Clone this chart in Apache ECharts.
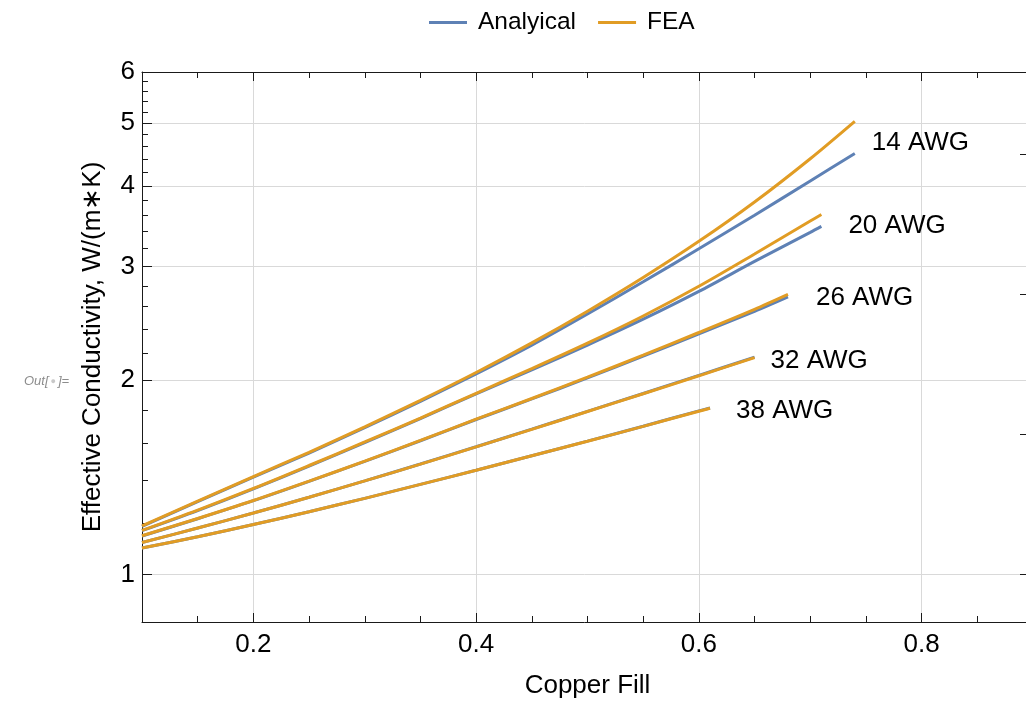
<!DOCTYPE html>
<html><head><meta charset="utf-8">
<script src="https://cdn.jsdelivr.net/npm/echarts@6/dist/echarts.min.js"></script>
<style>html,body{margin:0;padding:0;background:#fff}#c{width:1026px;height:707px}</style>
</head><body><div id="c"></div>
<script>
// ---- data ----
const gauges = ['14 AWG', '20 AWG', '26 AWG', '32 AWG', '38 AWG'];

const fill14 = [0.1, 0.15, 0.2, 0.25, 0.3, 0.35, 0.4, 0.45, 0.5, 0.55, 0.6, 0.65, 0.7, 0.74];
const analytical14 = [1.188, 1.298, 1.416, 1.543, 1.689, 1.855, 2.046, 2.267, 2.533, 2.841, 3.195, 3.602, 4.069, 4.487];
const fea14 = [1.190, 1.300, 1.419, 1.547, 1.694, 1.862, 2.056, 2.285, 2.558, 2.884, 3.281, 3.775, 4.405, 5.033];

const fill20 = [0.1, 0.15, 0.2, 0.25, 0.3, 0.35, 0.4, 0.45, 0.5, 0.55, 0.6, 0.65, 0.7, 0.71];
const analytical20 = [1.170, 1.257, 1.358, 1.473, 1.602, 1.745, 1.905, 2.075, 2.267, 2.486, 2.745, 3.055, 3.388, 3.461];
const fea20 = [1.171, 1.259, 1.360, 1.476, 1.605, 1.748, 1.909, 2.085, 2.283, 2.515, 2.796, 3.137, 3.527, 3.610];

const fill26 = [0.1, 0.15, 0.2, 0.25, 0.3, 0.35, 0.4, 0.45, 0.5, 0.55, 0.6, 0.65, 0.68];
const analytical26 = [1.148, 1.221, 1.302, 1.395, 1.498, 1.612, 1.739, 1.871, 2.017, 2.179, 2.360, 2.557, 2.692];
const fea26 = [1.149, 1.222, 1.303, 1.396, 1.499, 1.614, 1.741, 1.874, 2.022, 2.187, 2.371, 2.575, 2.716];

const fill32 = [0.1, 0.15, 0.2, 0.25, 0.3, 0.35, 0.4, 0.45, 0.5, 0.55, 0.6, 0.65];
const analytical32 = [1.122, 1.181, 1.246, 1.318, 1.397, 1.484, 1.578, 1.680, 1.790, 1.908, 2.035, 2.172];
const fea32 = [1.122, 1.181, 1.246, 1.318, 1.397, 1.483, 1.577, 1.679, 1.789, 1.906, 2.032, 2.168];

const fill38 = [0.1, 0.15, 0.2, 0.25, 0.3, 0.35, 0.4, 0.45, 0.5, 0.55, 0.6, 0.61];
const analytical38 = [1.100, 1.145, 1.196, 1.252, 1.313, 1.380, 1.451, 1.528, 1.610, 1.698, 1.793, 1.812];
const fea38 = [1.100, 1.145, 1.196, 1.252, 1.313, 1.380, 1.451, 1.528, 1.609, 1.697, 1.791, 1.810];

const xMajorTicks = [0.2, 0.4, 0.6, 0.8];
const xMinorTicks = [0.15, 0.25, 0.3, 0.35, 0.45, 0.5, 0.55, 0.65, 0.7, 0.75, 0.85];
const yMajorTicks = [1, 2, 3, 4, 5, 6];
const yMinorTicks = [1.2, 1.4, 1.6, 1.8, 2.2, 2.4, 2.6, 2.8, 3.2, 3.4, 3.6, 3.8, 4.2, 4.4, 4.6, 4.8, 5.2, 5.4, 5.6, 5.8];
const yRightTicks = [1, 1.6487, 2.7183, 4.4817];

// ---- chart ----
const FONT = '"Liberation Sans", Arial, sans-serif';
const BLUE = '#5E81B5', ORANGE = '#E19C24';
const AXIS = '#1a1a1a';
const fills = [fill14, fill20, fill26, fill32, fill38];
const analytical = [analytical14, analytical20, analytical26, analytical32, analytical38];
const fea = [fea14, fea20, fea26, fea32, fea38];
const labelOffsets = [[9, -11], [19, -1], [20, 1], [8, 4], [18, 3]];

function pairs(xs, ys) { return xs.map((x, i) => [x, ys[i]]); }

const series = [];
gauges.forEach((g, k) => {
  series.push({
    name: 'Analyical', type: 'line', data: pairs(fills[k], analytical[k]),
    symbol: 'none', smooth: 0.3, z: 2,
    lineStyle: { color: BLUE, width: 3 }, itemStyle: { color: BLUE },
    endLabel: { show: true, formatter: g, fontFamily: FONT, fontSize: 26, color: '#000', offset: labelOffsets[k] },
    emphasis: { disabled: true }
  });
});
gauges.forEach((g, k) => {
  series.push({
    name: 'FEA', type: 'line', data: pairs(fills[k], fea[k]),
    symbol: 'none', smooth: 0.3, z: 3,
    lineStyle: { color: ORANGE, width: 3 }, itemStyle: { color: ORANGE },
    emphasis: { disabled: true }
  });
});

const xBase = { type: 'value', min: 0.1, max: 0.9, gridIndex: 0 };
const yBase = { type: 'log', logBase: 10, min: 0.845, max: 6, gridIndex: 0 };

const option = {
  animation: false,
  backgroundColor: '#fff',
  textStyle: { fontFamily: FONT },
  legend: {
    left: 424, top: 5, itemWidth: 38, itemHeight: 3, itemGap: 22, icon: 'rect',
    data: ['Analyical', 'FEA'],
    textStyle: { fontFamily: FONT, fontSize: 24.5, color: '#000', padding: [0, 0, 0, 6] }
  },
  grid: { left: 142, right: -7, top: 72, bottom: 85, containLabel: false, outerBoundsMode: 'none' },
  xAxis: [
    Object.assign({}, xBase, {
      position: 'bottom',
      name: 'Copper Fill', nameLocation: 'middle', nameGap: 51,
      nameTextStyle: { fontFamily: FONT, fontSize: 26, color: '#000' },
      axisLine: { show: true, lineStyle: { color: AXIS, width: 1 } },
      axisTick: { show: true, inside: true, length: 9, customValues: xMajorTicks, lineStyle: { color: AXIS } },
      axisLabel: { customValues: xMajorTicks, formatter: v => v.toFixed(1), fontFamily: FONT, fontSize: 26, color: '#000', margin: 10 },
      splitLine: { show: true, lineStyle: { color: '#d9d9d9', width: 1 } }
    }),
    Object.assign({}, xBase, {
      position: 'bottom',
      axisLine: { show: false },
      axisTick: { show: true, inside: true, length: 6, customValues: xMinorTicks, lineStyle: { color: AXIS } },
      axisLabel: { show: false }, splitLine: { show: false }
    }),
    Object.assign({}, xBase, {
      position: 'top',
      axisLine: { show: true, lineStyle: { color: AXIS, width: 1 } },
      axisTick: { show: true, inside: true, length: 9, customValues: xMajorTicks, lineStyle: { color: AXIS } },
      axisLabel: { show: false }, splitLine: { show: false }
    }),
    Object.assign({}, xBase, {
      position: 'top',
      axisLine: { show: false },
      axisTick: { show: true, inside: true, length: 6, customValues: xMinorTicks, lineStyle: { color: AXIS } },
      axisLabel: { show: false }, splitLine: { show: false }
    })
  ],
  yAxis: [
    Object.assign({}, yBase, {
      position: 'left',
      name: 'Effective Conductivity, W/(m\u2217K)', nameLocation: 'middle', nameGap: 36,
      nameTextStyle: { fontFamily: FONT, fontSize: 26, color: '#000' },
      axisLine: { show: true, lineStyle: { color: AXIS, width: 1 } },
      axisTick: { show: true, inside: true, length: 10, customValues: yMajorTicks, lineStyle: { color: AXIS } },
      axisLabel: { customValues: yMajorTicks, formatter: v => String(Math.round(v)), fontFamily: FONT, fontSize: 26, color: '#000', margin: 7 },
      splitLine: { show: true, lineStyle: { color: '#d9d9d9', width: 1 } },
      minorTick: { show: false }
    }),
    Object.assign({}, yBase, {
      position: 'left',
      axisLine: { show: false },
      axisTick: { show: true, inside: true, length: 6, customValues: yMinorTicks, lineStyle: { color: AXIS } },
      axisLabel: { show: false }, splitLine: { show: false }
    }),
    Object.assign({}, yBase, {
      position: 'right',
      axisLine: { show: true, lineStyle: { color: AXIS, width: 1 } },
      axisTick: { show: true, inside: true, length: 13, customValues: yRightTicks, lineStyle: { color: AXIS } },
      axisLabel: { show: false }, splitLine: { show: false }
    })
  ],
  graphic: [{
    type: 'text', left: 24, top: 375,
    style: {
      text: '{a|Out[}{b|\u25CF}{a|]=}',
      rich: {
        a: { fontFamily: FONT, fontSize: 13, fontStyle: 'italic', fill: '#8c8c8c' },
        b: { fontFamily: FONT, fontSize: 9, fill: '#c8c8c8', padding: [0, 2, 0, 2] }
      }
    }
  }],
  series: series
};

const chart = echarts.init(document.getElementById('c'), null, { renderer: 'canvas' });
chart.setOption(option);
</script>
</body></html>
